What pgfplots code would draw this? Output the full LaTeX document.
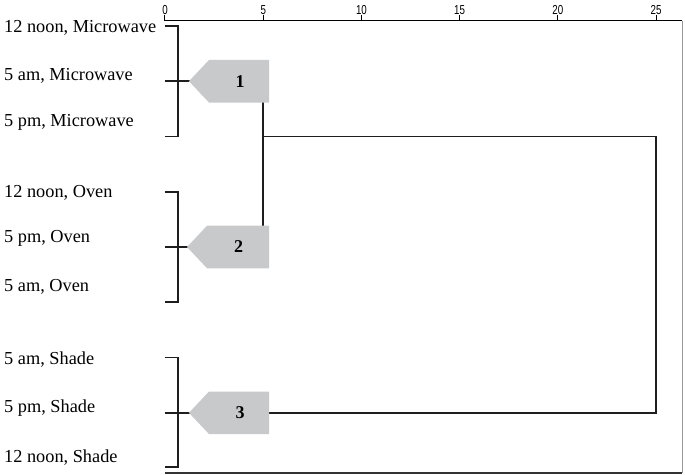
\documentclass[border=0pt]{standalone}
\usepackage{fontspec}
\setmainfont{Liberation Serif}
\newfontfamily\tickfont[FakeStretch=0.75]{Liberation Sans}
\usepackage{pgfplots}
\pgfplotsset{compat=1.18}
\definecolor{boxgray}{HTML}{C8C9CB}
\definecolor{linedark}{HTML}{1E1E1E}
\begin{document}
\begin{tikzpicture}[x=1pt,y=1pt]
\useasboundingbox (0,0) rectangle (685,474);
\begin{axis}[
  at={(165pt,1pt)}, anchor=south west,
  scale only axis, width=517pt, height=452.3pt,
  xmin=0, xmax=26.32, ymin=0.904, ymax=9.09, y dir=reverse,
  axis line style={draw=none},
  xtick={0,5,10,15,20,25},
  xtick pos=upper, xticklabel pos=upper,
  tick align=outside, major tick length=6pt,
  xtick style={black, line width=1pt},
  xticklabel style={font=\tickfont\fontsize{13}{13}\selectfont, inner sep=0.3pt},
  /pgf/number format/assume math mode=true,
  ytick={1.013,1.869,2.714,3.999,4.814,5.688,7.014,7.890,8.795},
  yticklabels={{12 noon, Microwave},{5 am, Microwave},{5 pm, Microwave},{12 noon, Oven},{5 pm, Oven},{5 am, Oven},{5 am, Shade},{5 pm, Shade},{12 noon, Shade}},
  ytick style={draw=none},
  yticklabel style={anchor=base west, inner sep=0pt, xshift=-155pt, yshift=-6pt, font=\fontsize{18.3}{20}\selectfont},
  clip=false,
]
% frame
\draw[black, line width=1.3pt] (axis cs:0,0.904) -- (axis cs:26.32,0.904);
\draw[gray!80, line width=1pt] (axis cs:26.32,0.904) -- (axis cs:26.32,9.09);
\draw[black!80, line width=1.3pt] (axis cs:0,9.09) -- (axis cs:26.32,9.09);
% cluster brackets
\addplot[linedark, line width=1.7pt] coordinates {(0,1) (0.66,1) (0.66,3) (0,3)};
\addplot[linedark, line width=2pt] coordinates {(0,2) (1.3,2)};
\addplot[linedark, line width=1.7pt] coordinates {(0,4) (0.66,4) (0.66,6) (0,6)};
\addplot[linedark, line width=2pt] coordinates {(0,5) (1.3,5)};
\addplot[linedark, line width=1.7pt] coordinates {(0,7) (0.66,7) (0.66,8.98) (0,8.98)};
\addplot[linedark, line width=2pt] coordinates {(0,8) (1.3,8)};
% connectors
\addplot[linedark, line width=1.7pt] coordinates {(5,2.3) (5,4.7)};
\addplot[linedark, line width=1.7pt] coordinates {(5,3) (25,3) (25,8) (5.2,8)};
% cluster markers
\addplot[fill=boxgray, draw=none] coordinates {(1.22,2) (2.24,1.615) (5.3,1.615) (5.3,2.385) (2.24,2.385)} -- cycle;
\addplot[fill=boxgray, draw=none] coordinates {(1.12,5) (2.14,4.615) (5.3,4.615) (5.3,5.385) (2.14,5.385)} -- cycle;
\addplot[fill=boxgray, draw=none] coordinates {(1.22,8) (2.24,7.615) (5.3,7.615) (5.3,8.385) (2.24,8.385)} -- cycle;
\node[font=\bfseries\fontsize{18}{18}\selectfont] at (axis cs:3.82,2) {1};
\node[font=\bfseries\fontsize{18}{18}\selectfont] at (axis cs:3.75,5) {2};
\node[font=\bfseries\fontsize{18}{18}\selectfont] at (axis cs:3.82,8) {3};
\end{axis}
\end{tikzpicture}
\end{document}
